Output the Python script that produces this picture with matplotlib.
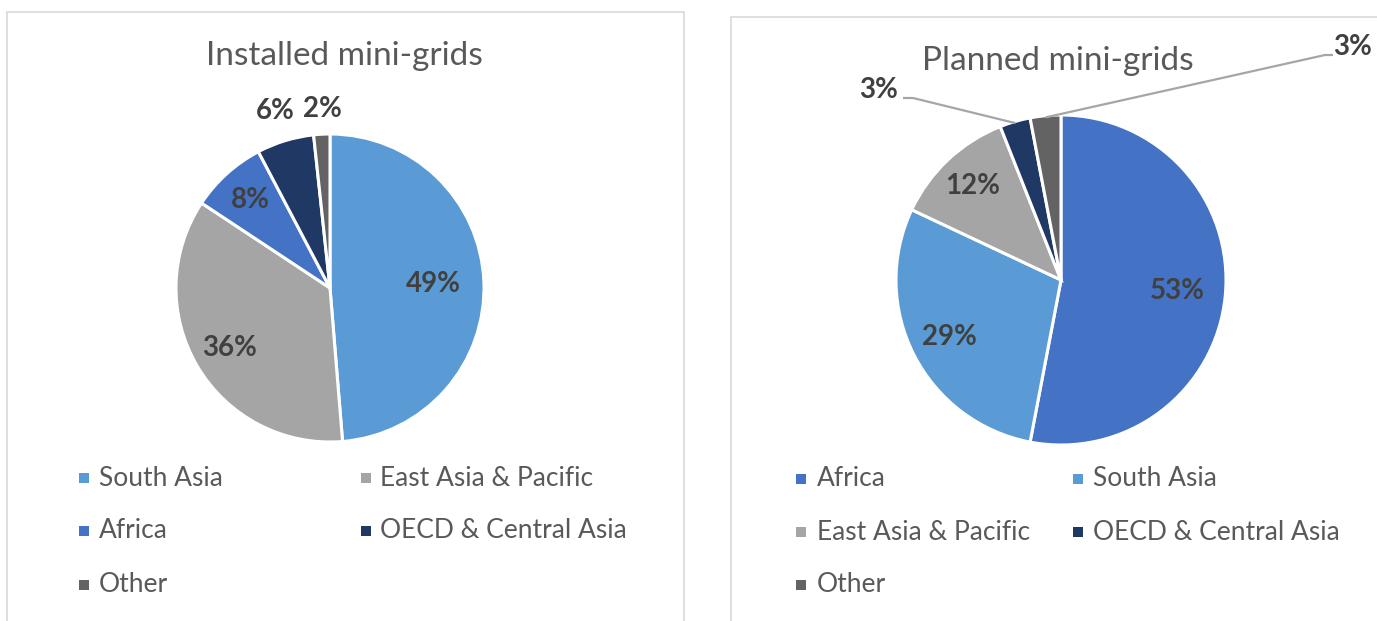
import matplotlib
matplotlib.use("Agg")
import matplotlib.pyplot as plt
import numpy as np
from matplotlib.patches import Rectangle

# ---------------- data ----------------
installed_categories = ["South Asia", "East Asia & Pacific", "Africa", "OECD & Central Asia", "Other"]
installed_values = [48.7, 35.6, 8.0, 6.0, 1.7]
installed_labels = ["49%", "36%", "8%", "6%", "2%"]

planned_categories = ["Africa", "South Asia", "East Asia & Pacific", "OECD & Central Asia", "Other"]
planned_values = [53.0, 29.0, 12.0, 3.0, 3.0]
planned_labels = ["53%", "29%", "12%", "3%", "3%"]

colors_by_cat = {
    "South Asia": "#5B9BD5",
    "East Asia & Pacific": "#A5A5A5",
    "Africa": "#4472C4",
    "OECD & Central Asia": "#203864",
    "Other": "#636363",
}

W, H = 1377, 621
plt.rcParams['font.family'] = ['Lato', 'DejaVu Sans']
fig = plt.figure(figsize=(W / 100, H / 100), dpi=100)
ax = fig.add_axes([0, 0, 1, 1])

TXT = "#595959"
LBL = "#404040"
LEAD = "#A6A6A6"
LBL_FS = 20
TITLE_FS = 24
LEG_FS = 19


def py(y):
    return H - y


def draw_panel(cats, vals, labels, center, radius, title, title_pos,
               label_r, outside, legend_x, legend_text_x, legend_y):
    cols = [colors_by_cat[c] for c in cats]
    wedges, _ = ax.pie(vals, colors=cols, startangle=90, counterclock=False,
                       center=(center[0], py(center[1])), radius=radius,
                       wedgeprops=dict(edgecolor="white", linewidth=2.2))
    cx, cy = center[0], py(center[1])
    for i, w in enumerate(wedges):
        mid = np.deg2rad((w.theta1 + w.theta2) / 2)
        if i in outside:
            lx, ly, ex, ey = outside[i]
            sx = cx + radius * 0.99 * np.cos(mid)
            sy = cy + radius * 0.99 * np.sin(mid)
            if ex is not None:
                hx = ex[1]
                ax.plot([sx, ex[0], hx], [sy, py(ey), py(ey)], color=LEAD, lw=1.6,
                        solid_capstyle="butt", zorder=3)
            ha = "center" if ex is None else ("right" if lx < cx else "left")
            ax.text(lx, py(ly), labels[i], ha=ha, va="center", fontsize=LBL_FS,
                    fontweight="bold", color=LBL)
        else:
            r = label_r[i] * radius
            ax.text(cx + r * np.cos(mid), cy + r * np.sin(mid), labels[i],
                    ha="center", va="center", fontsize=LBL_FS, fontweight="bold", color=LBL)
    ax.text(title_pos[0], py(title_pos[1]), title, ha="center", va="center",
            fontsize=TITLE_FS, color=TXT)
    for i, c in enumerate(cats):
        row, col = i // 2, i % 2
        yy = py(legend_y[row])
        ax.add_patch(Rectangle((legend_x[col] - 5, yy - 5), 10, 10,
                               facecolor=colors_by_cat[c], edgecolor="none"))
        ax.text(legend_text_x[col], yy, c, ha="left", va="center",
                fontsize=LEG_FS, color=TXT)


# panel frames
ax.add_patch(Rectangle((7, -5), 677, py(12) + 5, facecolor="white",
                       edgecolor="#D9D9D9", lw=1.2, zorder=0))
ax.add_patch(Rectangle((731, -5), 660, py(17) + 5, facecolor="white",
                       edgecolor="#D9D9D9", lw=1.2, zorder=0))

draw_panel(installed_categories, installed_values, installed_labels,
           center=(330, 288), radius=154,
           title="Installed mini-grids", title_pos=(344, 56),
           label_r=[0.67, 0.76, 0.77, 1.18, 1.16],
           outside={3: (275, 111, None, None), 4: (322, 109, None, None)},
           legend_x=[84, 366], legend_text_x=[99, 380], legend_y=[478, 531, 585])

draw_panel(planned_categories, planned_values, planned_labels,
           center=(1061, 280), radius=165,
           title="Planned mini-grids", title_pos=(1058, 61),
           label_r=[0.71, 0.76, 0.78, 1.2, 1.2],
           outside={3: (898, 90, (913, 903), 98), 4: (1333, 47, (1325, 1333), 55)},
           legend_x=[801, 1078], legend_text_x=[817, 1093], legend_y=[479, 532, 585])

ax.set_xlim(0, W)
ax.set_ylim(0, H)
ax.set_aspect("auto")
ax.axis("off")
fig.savefig("out.png", dpi=100, facecolor="white")
